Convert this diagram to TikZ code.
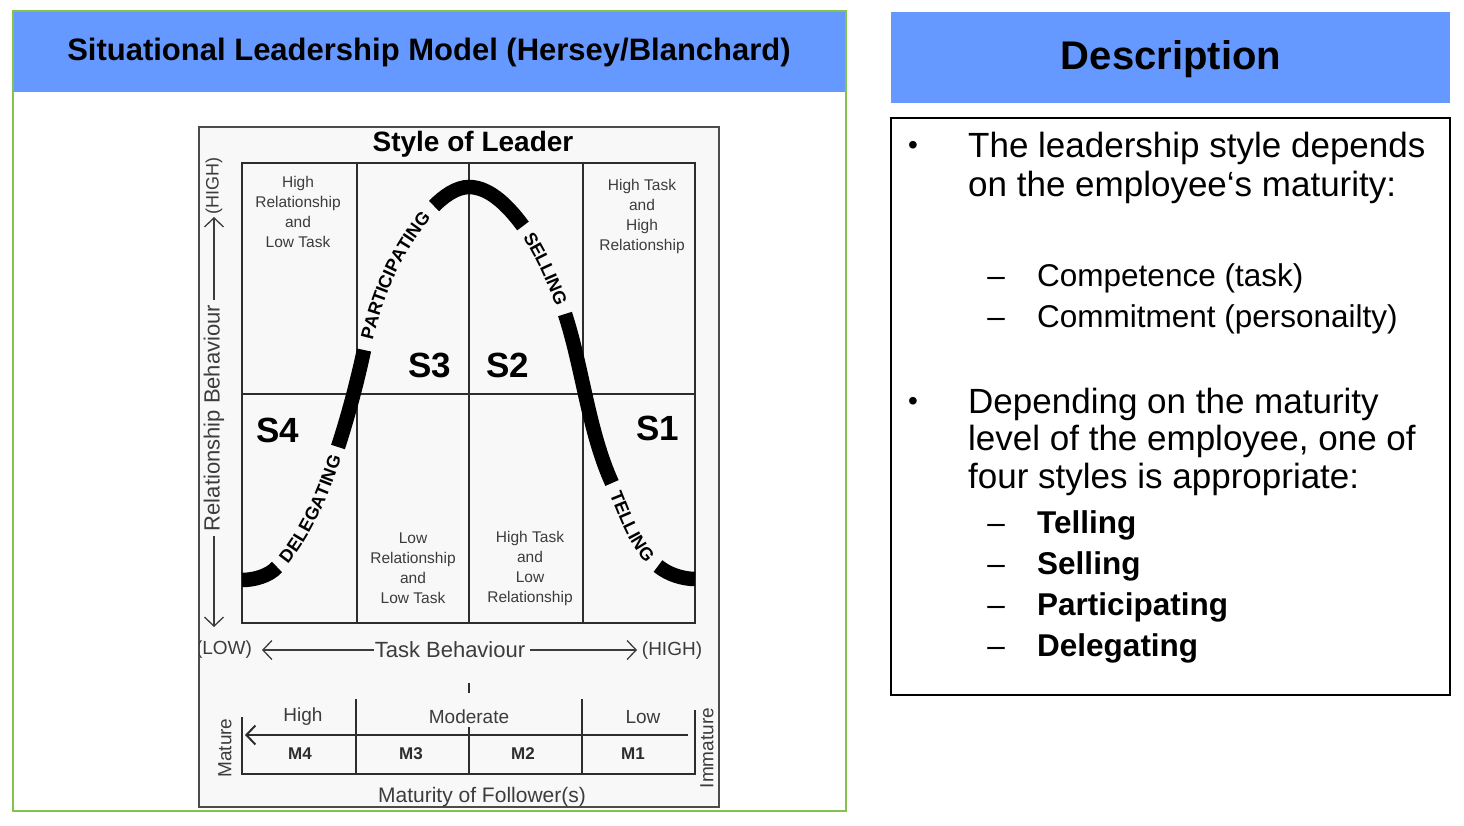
\documentclass[tikz,border=0pt]{standalone}
\usepackage{fontspec}
\setmainfont{Liberation Sans}
\setsansfont{Liberation Sans}
\usetikzlibrary{arrows.meta,decorations.text}
\definecolor{hdrblue}{RGB}{102,153,255}
\definecolor{frgreen}{RGB}{132,194,78}
\definecolor{imgbg}{RGB}{248,248,248}
\definecolor{gridc}{RGB}{45,45,45}
\definecolor{labc}{RGB}{60,60,60}
\newcommand\fsz[1]{\fontsize{#1}{#1}\selectfont}
\newcommand\curvefont{\fontsize{18}{18}\selectfont\bfseries}
\begin{document}
\begin{tikzpicture}[x=1pt,y=-1pt,
  gridline/.style={draw=gridc,line width=2.6pt},
  curveseg/.style={draw=black,line width=14.5pt},
  curvetext/.style={decorate,decoration={text along path,text align=center,raise=-6.4pt,text={|\curvefont|#1}}},
  celltxt/.style={align=center,inner sep=0pt,text=labc,font=\fontsize{15.5}{20}\selectfont},
  slabel/.style={inner sep=0pt,font=\bfseries\fsz{35}},
  axislabel/.style={inner sep=0pt,text=labc,font=\fsz{22}},
  endlabel/.style={inner sep=0pt,text=labc,font=\fsz{19}},
  scalelabel/.style={inner sep=0pt,text=labc,font=\fsz{19}},
  mlabel/.style={inner sep=0pt,text=gridc,font=\bfseries\fsz{17}},
  axisarrow/.style={draw=labc,line width=1.1pt,-{Straight Barb[length=9pt,width=19pt,line width=1.3pt]}},
  bodytxt/.style={inner sep=0pt,anchor=base west,font=\fsz{35}},
  subtxt/.style={inner sep=0pt,anchor=base west,font=\fsz{31.5}},
  subbold/.style={inner sep=0pt,anchor=base west,font=\bfseries\fsz{31.5}},
  bulletmark/.style={inner sep=0pt,anchor=base,font=\fsz{28}},
  dashmark/.style={inner sep=0pt,anchor=base,font=\fsz{31.5}}
]
\useasboundingbox (0,0) rectangle (1464,825);

% ---------- left panel ----------
\fill[white] (13,11) rectangle (846,811);
\fill[hdrblue] (13,11) rectangle (846,92);
\draw[frgreen,line width=2pt] (13,11) rectangle (846,811);
\node[inner sep=0pt,font=\bfseries\fsz{31}] (title) at (429,52) {Situational Leadership Model (Hersey/Blanchard)};

% model figure
\draw[draw=gray!60!black,line width=1.5pt,fill=imgbg] (199,127) rectangle (719,807);
\begin{scope}
\clip (199,127) rectangle (719,807);

\node[inner sep=0pt,font=\bfseries\fsz{28}] (style) at (473,144) {Style of Leader};

% quadrant grid
\draw[gridline] (242,163) rectangle (695,623);
\draw[gridline] (242,394) -- (695,394);
\draw[gridline] (357,163) -- (357,623);
\draw[gridline] (469,163) -- (469,623);
\draw[gridline] (583,163) -- (583,623);

% cell descriptions
\node[celltxt] (c1) at (298,212) {High\\Relationship\\and\\Low Task};
\node[celltxt] (c2) at (642,216) {High Task\\and\\High\\Relationship};
\node[celltxt] (c3) at (413,568) {Low\\Relationship\\and\\Low Task};
\node[celltxt] (c4) at (530,568) {High Task\\and\\Low\\Relationship};

% style labels
\node[slabel] (s3) at (430,365) {S3};
\node[slabel] (s2) at (508,365) {S2};
\node[slabel] (s4) at (278,430) {S4};
\node[slabel] (s1) at (658,428) {S1};

% bell curve junctions
\coordinate (A0) at (242,580);
\coordinate (A1) at (277,567);
\coordinate (A2) at (338,447);
\coordinate (A3) at (364,350);
\coordinate (A4) at (434,206);
\coordinate (P)  at (469,187);
\coordinate (A5) at (523,226);
\coordinate (A6) at (565,314);
\coordinate (A7) at (612,483);
\coordinate (A8) at (658,566);
\coordinate (A9) at (695,579);

% solid parts of the curve
\draw[curveseg] (A0) .. controls (254,580) and (269,576) .. (A1);
\draw[curveseg] (A2) .. controls (348.2,415.6) and (357.1,382.3) .. (A3);
\draw[curveseg] (A4) .. controls (443.2,196.8) and (456,187) .. (P)
                     .. controls (491,187) and (510.4,209) .. (A5);
\draw[curveseg] (A6) .. controls (582.9,369.2) and (588.4,431) .. (A7);
\draw[curveseg] (A8) .. controls (668,574.4) and (683,579) .. (A9);

% style names written along the curve
\path[curvetext=DELEGATING] (A1) .. controls (307.1,533.6) and (324.1,489.8) .. (A2);
\path[curvetext=PARTICIPATING] (A3) .. controls (375,298.2) and (396.5,243.5) .. (A4);
\path[curvetext=SELLING] (A5) .. controls (541.4,253.2) and (555.1,283.6) .. (A6);
\path[curvetext=TELLING] (A7) .. controls (624.6,512.3) and (634.3,546.1) .. (A8);

% relationship axis
\node[axislabel,rotate=90] (relb) at (214,418) {Relationship Behaviour};
\node[inner sep=0pt,text=labc,font=\fsz{18},rotate=90] (rhigh) at (214,186) {(HIGH)};
\coordinate (rtop) at (214,217);
\coordinate (rbot) at (214,627);
\draw[axisarrow,shorten <=5pt] (relb.east) -- (rtop);
\draw[axisarrow,shorten <=5pt] (relb.west) -- (rbot);

% task axis
\node[axislabel] (taskb) at (450,650) {Task Behaviour};
\node[endlabel] (tlow) at (224,650) {(LOW)};
\node[endlabel] (thigh) at (672,651) {(HIGH)};
\coordinate (tleft) at (262,650);
\coordinate (tright) at (637,650);
\draw[axisarrow,shorten <=1pt] (taskb.west) -- (tleft);
\draw[axisarrow,shorten <=5pt] (taskb.east) -- (tright);

% maturity scale
\draw[gridline] (469,683) -- (469,693);
\draw[gridline] (242,717) -- (242,774) -- (695,774) -- (695,710);
\draw[gridline] (356,699) -- (356,774);
\draw[gridline] (469,727) -- (469,774);
\draw[gridline] (582,699) -- (582,774);
\coordinate (mright) at (688,735);
\coordinate (mleft) at (245,735);
\draw[draw=gridc,line width=2pt,-{Straight Barb[length=9pt,width=19pt,line width=2pt]}] (mright) -- (mleft);

\node[scalelabel] (hi) at (303,717) {High};
\node[scalelabel] (mod) at (469,717) {Moderate};
\node[scalelabel] (lo) at (643,717) {Low};
\node[mlabel] (m4) at (300,754) {M4};
\node[mlabel] (m3) at (411,754) {M3};
\node[mlabel] (m2) at (523,754) {M2};
\node[mlabel] (m1) at (633,754) {M1};
\node[scalelabel,rotate=90] (mat) at (225,748) {Mature};
\node[scalelabel,rotate=90] (immat) at (707,748) {Immature};
\node[inner sep=0pt,text=labc,font=\fsz{21}] (follow) at (482,797) {Maturity of Follower(s)};
\end{scope}

% ---------- right panel ----------
\fill[hdrblue] (891,12) rectangle (1450,103);
\node[inner sep=0pt,font=\bfseries\fsz{40}] (desc) at (1171,59) {Description};
\draw[black,line width=1.5pt] (891,118) rectangle (1450,695);

\node[bulletmark] (b1) at (913,154) {•};
\node[bodytxt] (l1) at (968,157) {The leadership style depends};
\node[bodytxt] (l2) at (968,196) {on the employee‘s maturity:};
\node[dashmark] (d1) at (996,286) {–};
\node[subtxt] (l3) at (1037,286) {Competence (task)};
\node[dashmark] (d2) at (996,327) {–};
\node[subtxt] (l4) at (1037,327) {Commitment (personailty)};

\node[bulletmark] (b2) at (913,410) {•};
\node[bodytxt] (l5) at (968,413) {Depending on the maturity};
\node[bodytxt] (l6) at (968,450) {level of the employee, one of};
\node[bodytxt] (l7) at (968,488) {four styles is appropriate:};
\node[dashmark] (d3) at (996,533) {–};
\node[subbold] (l8) at (1037,533) {Telling};
\node[dashmark] (d4) at (996,574) {–};
\node[subbold] (l9) at (1037,574) {Selling};
\node[dashmark] (d5) at (996,615) {–};
\node[subbold] (l10) at (1037,615) {Participating};
\node[dashmark] (d6) at (996,656) {–};
\node[subbold] (l11) at (1037,656) {Delegating};
\end{tikzpicture}
\end{document}
